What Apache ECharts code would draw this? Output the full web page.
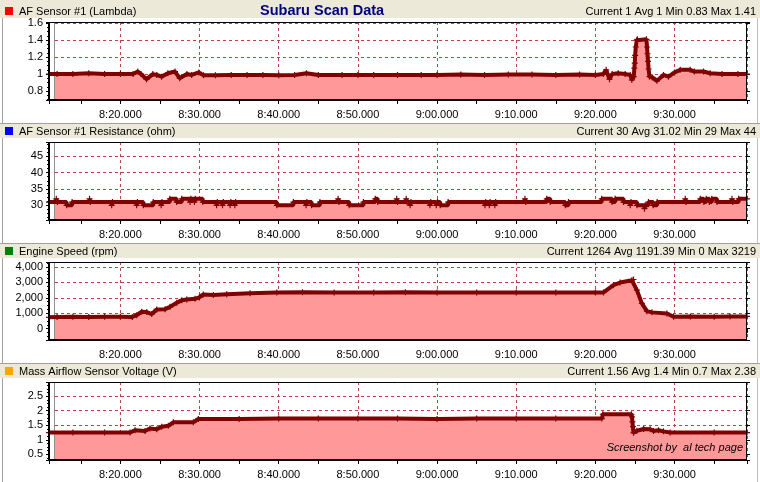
<!DOCTYPE html>
<html><head><meta charset="utf-8">
<script src="https://cdn.jsdelivr.net/npm/echarts@6/dist/echarts.min.js"></script>
<style>html,body{margin:0;padding:0;background:#fff;}#c{width:760px;height:482px;}</style>
</head><body><div id="c"></div>
<script>
// Time values are minutes after 8:00
const xMin = 10.98, xMax = 99.15;

const panelTitles = ['AF Sensor #1 (Lambda)', 'AF Sensor #1 Resistance (ohm)', 'Engine Speed (rpm)', 'Mass Airflow Sensor Voltage (V)'];
const panelStats = ['Current 1 Avg 1 Min 0.83 Max 1.41', 'Current 30 Avg 31.02 Min 29 Max 44', 'Current 1264 Avg 1191.39 Min 0 Max 3219', 'Current 1.56 Avg 1.4 Min 0.7 Max 2.38'];
const chartTitle = 'Subaru Scan Data';
const watermark = 'Screenshot by  al tech page';

const yMins = [0.694, 25.53, -729, 0.304];
const yMaxs = [1.615, 49.35, 4322, 2.99];
const yTickSteps = [0.2, 5, 1000, 0.5];

const lambdaTimes = [10.98,12,14,16,18,20,21.6,22.2,22.6,23.3,24.1,24.6,25.2,26.0,26.9,27.5,28.4,29.0,29.9,30.5,32,34,36,38,40,42,43.5,45,48,50,52,55,58,60,63,66,69,72,75,78,80,81.0,81.36,81.78,82.12,82.88,83.76,84.4,84.6,84.85,84.92,84.97,85.02,85.1,85.22,85.3,86.45,86.52,86.58,86.65,86.72,86.83,87.2,87.77,88.6,89.23,90.0,90.71,91.97,92.5,93.66,94.5,96,98,99.15];
const lambdaValues = [1.0,1.0,1.0,1.01,1.0,1.0,1.0,1.03,1.0,0.94,1.0,0.99,0.97,1.01,1.03,0.95,1.0,0.99,1.02,0.985,0.985,0.99,0.99,0.99,0.985,0.99,1.01,0.99,0.99,0.99,0.99,0.99,0.99,0.99,0.995,0.99,0.995,0.995,0.99,0.995,0.99,1.0,1.05,0.94,1.0,1.01,1.0,0.99,0.93,0.97,1.07,1.13,1.22,1.32,1.40,1.41,1.41,1.32,1.24,1.15,1.06,0.97,0.96,0.92,0.99,0.97,1.02,1.05,1.05,1.03,1.03,1.01,1.0,1.0,1.0];

const resTimes = [10.98,11.9,12.05,13.2,13.9,16.1,16.2,18.9,19.0,22.05,22.15,22.9,24.15,25.15,25.25,26.25,27.1,27.75,28.8,28.9,29.35,29.45,30.4,32.15,32.25,32.9,33.0,33.85,33.95,34.45,34.55,39.75,41.85,43.45,43.55,44.15,45.2,47.5,47.6,48.9,50.7,52.2,52.5,54.9,55.0,56.1,56.2,56.6,56.7,59.1,59.2,59.9,60.05,60.4,61.4,66.05,66.15,66.6,66.7,67.3,67.4,71.1,71.2,73.85,74.3,76.2,76.6,80.8,82.1,82.5,83.55,84.4,84.5,85.25,86.2,86.3,86.7,87.3,87.8,91.35,91.45,93.25,93.7,94.0,94.4,94.7,95.35,97.25,97.35,98.1,99.15];
const resValues = [31,32,31,30,31,32,31,30,31,30,31,30,31,30,31,32,31,32,31,32,31,32,31,30,31,30,31,30,31,30,31,30,31,30,31,30,31,32,31,30,31,32,31,32,31,32,31,30,31,30,31,30,31,30,31,30,31,30,31,30,31,32,31,32,31,30,31,32,31,32,31,30,31,30,29,30,31,30,31,32,31,32,31,32,31,32,31,32,31,32,32];

const rpmTimes = [10.98,12,14,16,18,20,21.5,22.06,22.69,23.33,23.96,24.59,25.64,26.27,27.12,27.75,28.38,29.43,29.97,30.48,31.74,33.43,36.38,39.75,43,47,52,56,60,65,70,75,80,81.02,82.28,83.13,84.61,84.81,85.24,85.87,86.5,87.14,89.03,89.87,92,95,97,99.15];
const rpmValues = [740,760,780,760,770,780,760,880,1100,1080,950,1250,1270,1420,1680,1850,1900,1935,2025,2220,2180,2240,2300,2350,2360,2350,2350,2360,2350,2340,2350,2340,2340,2350,2820,2990,3140,3190,2500,1640,1140,1060,990,775,790,780,790,800];

const mafTimes = [10.98,14,18,21.22,21.85,23.11,23.74,24.59,25.22,26.05,26.69,29.21,29.85,35,40,45,50,55,60,65,70,75,80.82,80.94,84.55,84.62,84.68,84.74,84.81,85.24,86.08,86.92,87.34,87.97,88.6,89.45,95,99.15];
const mafValues = [1.25,1.25,1.25,1.25,1.33,1.30,1.39,1.36,1.45,1.48,1.60,1.60,1.72,1.72,1.73,1.73,1.73,1.73,1.72,1.73,1.73,1.73,1.73,1.88,1.88,1.79,1.62,1.45,1.24,1.31,1.37,1.36,1.30,1.33,1.29,1.25,1.25,1.25];

const seriesTimes = [lambdaTimes, resTimes, rpmTimes, mafTimes];
const seriesValues = [lambdaValues, resValues, rpmValues, mafValues];
const seriesStep = [false, 'end', false, false];
const squareColors = ['#ff0000', '#0000ff', '#008000', '#ffa500'];

const FONT = '"Liberation Sans", Arial, sans-serif';
const GRID_COLOR = '#b84444';
const CROSS = 'path://M2,0L3,0L3,2L5,2L5,3L3,3L3,5L2,5L2,3L0,3L0,2L2,2Z';

function fmtTime(m) {
  const total = 480 + Math.round(m);
  const h = Math.floor(total / 60), mm = total % 60;
  return h + ':' + String(mm).padStart(2, '0') + '.000';
}

const grids = [], xAxes = [], yAxes = [], series = [], graphics = [];
graphics.push({type:'line', z:1, shape:{x1:2.5,y1:0,x2:2.5,y2:482}, style:{stroke:'#a0a0a0', lineWidth:1}});
graphics.push({type:'line', z:1, shape:{x1:757.5,y1:0,x2:757.5,y2:482}, style:{stroke:'#c0c0c0', lineWidth:1}});

for (let k = 0; k < 4; k++) {
  const y0 = k * 120;
  const top = 22 + y0, h = 78, left = 49, w = 698;
  grids.push({left: left, top: top, width: w, height: h, show: false});
  const step = yTickSteps[k];
  const fmtY = (v) => {
    const r = v / step;
    if (Math.abs(r - Math.round(r)) > 1e-6) return '';
    const val = Math.round(r) * step;
    if (k === 2) return Math.round(val).toLocaleString('en-US');
    return String(+val.toFixed(2));
  };
  xAxes.push({
    gridIndex: k, type: 'value', position: 'bottom', min: xMin, max: xMax, splitNumber: 9,
    axisLine: {show: false}, axisTick: {show: false},
    axisLabel: {
      fontSize: 11, fontFamily: FONT, color: '#000', margin: 9, showMinLabel: false, showMaxLabel: false,
      formatter: (v) => Math.abs(v - Math.round(v)) < 1e-6 ? fmtTime(v) : ''
    },
    splitLine: {show: true, lineStyle: {color: GRID_COLOR, width: 1, type: [3, 3]}}
  });
  xAxes.push({
    gridIndex: k, type: 'value', position: 'bottom', min: xMin, max: xMax, splitNumber: 18,
    axisLine: {show: false}, axisLabel: {show: false}, splitLine: {show: false},
    axisTick: {show: true, length: 4, lineStyle: {color: '#000', width: 1}}
  });
  yAxes.push({
    gridIndex: k, type: 'value', position: 'left', min: yMins[k], max: yMaxs[k], splitNumber: 5,
    axisLine: {show: false},
    axisTick: {show: true, length: 3, lineStyle: {color: '#000'}},
    minorTick: {show: true, splitNumber: 4, length: 2, lineStyle: {color: '#000'}},
    axisLabel: {fontSize: 11, fontFamily: FONT, color: '#000', margin: 6, showMinLabel: false, showMaxLabel: false, formatter: fmtY},
    splitLine: {show: true, lineStyle: {color: GRID_COLOR, width: 1, type: [3, 3]}}
  });
  yAxes.push({
    gridIndex: k, type: 'value', position: 'right', min: yMins[k], max: yMaxs[k], splitNumber: 5,
    axisLine: {show: false}, axisLabel: {show: false}, splitLine: {show: false},
    axisTick: {show: true, length: 3, lineStyle: {color: '#000'}}
  });

  const times = seriesTimes[k], vals = seriesValues[k];
  const n = Math.min(times.length, vals.length);
  const data = [];
  for (let i = 0; i < n; i++) data.push([times[i], vals[i]]);

  series.push({
    type: 'line', xAxisIndex: 2 * k, yAxisIndex: 2 * k, data: data, step: seriesStep[k],
    symbol: 'none', silent: true, z: 2,
    lineStyle: {color: '#ff0000', width: 1},
    areaStyle: {color: '#ff9999', opacity: 1, origin: 'start'}
  });
  series.push({
    type: 'line', xAxisIndex: 2 * k, yAxisIndex: 2 * k, data: data, step: seriesStep[k],
    symbol: CROSS, symbolSize: 6, showAllSymbol: true, silent: true, z: 4,
    itemStyle: {color: '#800000'},
    lineStyle: {color: '#800000', width: 4}
  });

  // header bar
  const hTop = k === 0 ? 0 : y0 + 3;
  graphics.push({type: 'rect', z: 20, shape: {x: 0, y: hTop, width: 760, height: y0 + 18 - hTop}, style: {fill: '#ece9d8'}});
  if (k > 0) graphics.push({type: 'line', z: 21, shape: {x1: 0, y1: y0 + 3.5, x2: 760, y2: y0 + 3.5}, style: {stroke: '#a0a0a0', lineWidth: 1}});
  graphics.push({type: 'rect', z: 21, shape: {x: 5, y: y0 + 7, width: 8, height: 8}, style: {fill: squareColors[k]}});
  graphics.push({type: 'text', z: 21, x: 19, y: y0 + 11.5, style: {text: panelTitles[k], fill: '#000', fontSize: 11, fontFamily: FONT, verticalAlign: 'middle', align: 'left'}});
  graphics.push({type: 'text', z: 21, x: 756, y: y0 + 11.5, style: {text: panelStats[k], fill: '#000', fontSize: 11, fontFamily: FONT, verticalAlign: 'middle', align: 'right'}});

  // inner strip + frame
  graphics.push({type: 'rect', z: 3, shape: {x: 50, y: top, width: 4.5, height: h}, style: {fill: '#fff'}});
  graphics.push({type: 'line', z: 3, shape: {x1: 54.5, y1: top, x2: 54.5, y2: top + h}, style: {stroke: '#909090', lineWidth: 1}});
  graphics.push({type: 'line', z: 10, shape: {x1: 49, y1: top, x2: 49, y2: top + h + 1}, style: {stroke: '#000', lineWidth: 2}});
  graphics.push({type: 'line', z: 10, shape: {x1: 48, y1: top + h, x2: 747, y2: top + h}, style: {stroke: '#000', lineWidth: 2}});
  graphics.push({type: 'line', z: 10, shape: {x1: 48, y1: top + 0.5, x2: 747, y2: top + 0.5}, style: {stroke: '#000', lineWidth: 1}});
  graphics.push({type: 'line', z: 10, shape: {x1: 746.5, y1: top, x2: 746.5, y2: top + h}, style: {stroke: '#000', lineWidth: 1}});
}

graphics.push({type: 'text', z: 22, x: 260, y: 10.5, style: {text: chartTitle, fill: '#000080', fontSize: 14.5, fontWeight: 'bold', fontFamily: FONT, verticalAlign: 'middle', align: 'left'}});
graphics.push({type: 'text', z: 10, x: 743, y: 447.5, style: {text: watermark, fill: '#000', fontSize: 11, fontStyle: 'italic', fontFamily: FONT, verticalAlign: 'middle', align: 'right'}});

const chart = echarts.init(document.getElementById('c'));
chart.setOption({
  animation: false,
  backgroundColor: '#fff',
  grid: grids, xAxis: xAxes, yAxis: yAxes, series: series, graphic: graphics
});
</script></body></html>
